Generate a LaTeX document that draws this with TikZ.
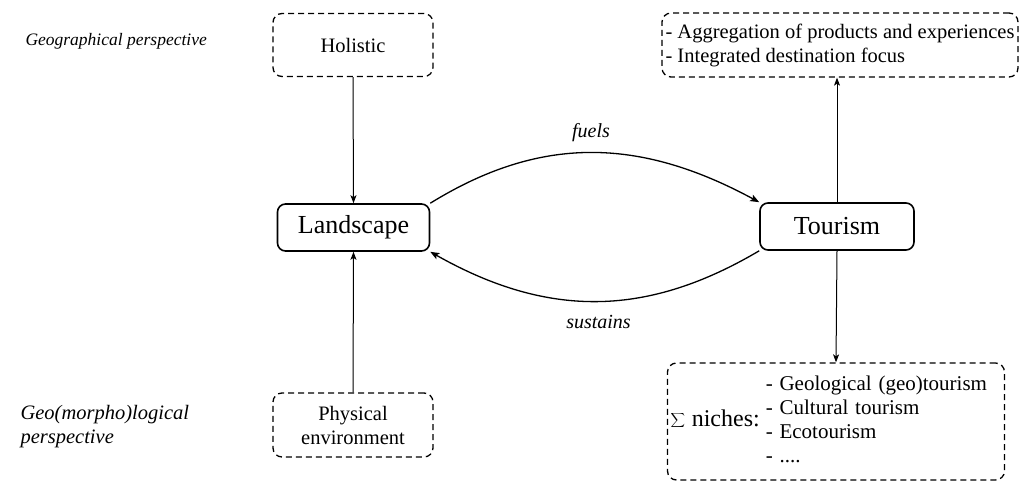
\documentclass[tikz,border=0pt]{standalone}
\usepackage{fontspec}
\setmainfont{Liberation Serif}
\usepackage{tikz}
\usetikzlibrary{arrows.meta}

\begin{document}
\begin{tikzpicture}[x=1pt,y=1pt,>={Stealth[length=9pt,width=7pt,inset=2pt]},
  every node/.style={font=\fontsize{20.5}{24}\selectfont},
  mainbox/.style={draw,line width=1.6pt,rounded corners=8pt,minimum height=47pt,font=\fontsize{26}{30}\selectfont},
  dashbox/.style={draw,line width=1.3pt,dash pattern=on 6pt off 4pt,rounded corners=9pt,align=center},
  persp/.style={anchor=west,align=left,font=\itshape\fontsize{20.5}{24}\selectfont},
  lbl/.style={font=\itshape\fontsize{20}{24}\selectfont}]
\useasboundingbox (0,0) rectangle (1020,-485);

\node[persp,font=\itshape\fontsize{17.5}{22}\selectfont] (geo) at (22,-41) {Geographical perspective};
\node[persp] (morph) at (17,-427) {Geo(morpho)logical\\perspective};

\node[dashbox,minimum width=160pt,minimum height=63pt] (holistic) at (353,-45) {Holistic};
\node[mainbox,minimum width=152pt] (land) at (353.5,-227.5) {Landscape};
\node[dashbox,minimum width=160pt,minimum height=64pt] (phys) at (353,-425) {Physical\\environment};

\node[mainbox,minimum width=154pt] (tour) at (837,-226.5) {Tourism};
\node[dashbox,minimum width=356pt,minimum height=64pt,align=left,inner xsep=2pt] (agg) at (840,-45) {- Aggregation of products and experiences\\- Integrated destination focus};
\node[dashbox,minimum width=337pt,minimum height=117pt,align=left,text width=331pt,inner xsep=3pt] (niche) at (836,-421.5) {{\fontsize{24}{28}\selectfont$\displaystyle\sum$ niches:}\hspace{6pt}{\fontsize{21}{24}\selectfont\begin{tabular}[c]{@{}l@{}}- Geological (geo)tourism\\- Cultural tourism\\- Ecotourism\\- ....\end{tabular}}};

\path[->,line width=1pt,>={Stealth[length=8pt,width=6pt,inset=2pt]}] (holistic.south) edge (land.north)
	(phys.north) edge (land.south)
	(tour.north) edge (tour.north |- agg.south)
	(tour.south) edge (niche.north);

\draw[->,line width=1.3pt] (land.north east) .. controls +(110,68) and +(-120,65) .. node[lbl,above=7pt] {fuels} (tour.north west);
\draw[->,line width=1.3pt] (tour.south west) .. controls +(-110,-65) and +(120,-68) .. node[lbl,below=10pt] {sustains} (land.south east);

\end{tikzpicture}
\end{document}
